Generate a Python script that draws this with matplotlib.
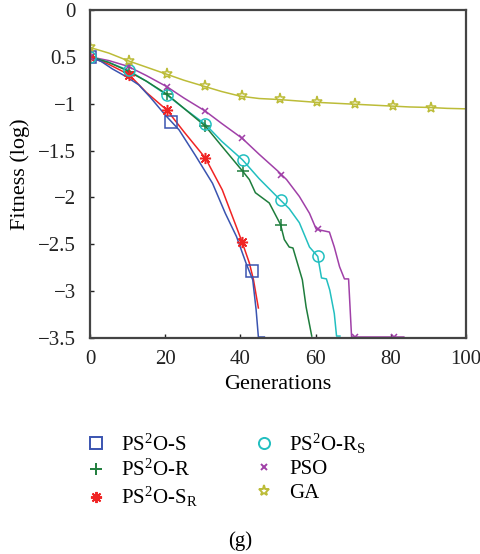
import matplotlib
matplotlib.use("Agg")
import matplotlib.pyplot as plt
from matplotlib.lines import Line2D

plt.rcParams['font.family'] = ['Liberation Serif', 'DejaVu Serif']
plt.rcParams['mathtext.fontset'] = 'custom'
plt.rcParams['mathtext.rm'] = 'Liberation Serif'
plt.rcParams['mathtext.it'] = 'Liberation Serif:italic'

# Data
s_x = [0, 3, 6, 10, 13, 16, 20, 23.7, 28, 32.6, 36, 39, 41.5, 43.3, 44.2, 44.8, 46.4]
s_y = [-0.5, -0.55, -0.63, -0.72, -0.8, -0.93, -1.12, -1.28, -1.55, -1.85, -2.17, -2.42, -2.7, -2.88, -3.2, -3.49, -3.49]
s_mx = [0, 21.5, 43]
s_my = [-0.5, -1.2, -2.79]

sr_x = [0, 5, 10.4, 15, 20.5, 25, 30.7, 35.2, 39, 40.5, 42.4, 43.5, 44.8]
sr_y = [-0.5, -0.58, -0.69, -0.88, -1.07, -1.3, -1.58, -1.92, -2.32, -2.48, -2.7, -2.88, -3.18]
sr_mx = [0, 10.4, 20.5, 30.7, 40.5]
sr_my = [-0.5, -0.69, -1.07, -1.58, -2.48]

r_x = [0, 5, 10, 15, 20.5, 25, 30.7, 35, 40.6, 42.4, 44, 47.7, 50.7, 51.7, 53, 54, 56.5, 57.5, 59]
r_y = [-0.5, -0.56, -0.65, -0.76, -0.9, -1.05, -1.24, -1.45, -1.72, -1.81, -1.95, -2.06, -2.29, -2.45, -2.53, -2.54, -2.88, -3.17, -3.48]
r_mx = [0, 10.4, 20.5, 30.7, 40.6, 50.7]
r_my = [-0.5, -0.66, -0.9, -1.24, -1.72, -2.29]

rs_x = [0, 5, 10, 15, 20.5, 25, 30.7, 35, 40.6, 45, 50.7, 53, 55.7, 58.4, 60.6, 61.6, 62.9, 63.8, 65, 65.6, 66.5]
rs_y = [-0.5, -0.56, -0.64, -0.76, -0.91, -1.05, -1.22, -1.4, -1.6, -1.8, -2.03, -2.12, -2.27, -2.53, -2.63, -2.86, -2.87, -2.99, -3.24, -3.48, -3.48]
rs_mx = [0, 10.4, 20.5, 30.7, 40.6, 50.7, 60.6]
rs_my = [-0.5, -0.64, -0.91, -1.22, -1.6, -2.03, -2.63]

pso_x = [0, 5, 10, 15, 20.5, 25, 30.7, 35, 40.5, 45, 50, 52.3, 55.7, 58.4, 60.2, 63.7, 65, 66.4, 67.7, 68.8, 69.6, 83.5]
pso_y = [-0.5, -0.54, -0.6, -0.7, -0.82, -0.94, -1.08, -1.21, -1.37, -1.54, -1.72, -1.81, -1.99, -2.17, -2.34, -2.37, -2.53, -2.74, -2.87, -2.87, -3.49, -3.49]
pso_mx = [0, 10.4, 20.5, 30.7, 40.5, 50.7, 60.6, 70.5, 80.8]
pso_my = [-0.5, -0.6, -0.82, -1.08, -1.37, -1.76, -2.34, -3.49, -3.49]

ga_x = [0, 5, 10, 15, 20, 25, 30, 35, 40, 45, 50, 55, 60, 65, 70, 75, 80, 85, 90, 95, 100]
ga_y = [-0.4, -0.46, -0.54, -0.61, -0.68, -0.75, -0.81, -0.87, -0.92, -0.945, -0.955, -0.97, -0.985, -0.995,
        -1.005, -1.015, -1.025, -1.035, -1.04, -1.05, -1.055]
ga_mx = [0, 10.4, 20.5, 30.5, 40.5, 50.6, 60.5, 70.5, 80.5, 90.6]
ga_my = [-0.39, -0.54, -0.68, -0.81, -0.92, -0.955, -0.985, -1.005, -1.025, -1.045]

series = [
    (s_x, s_y, s_mx, s_my, '#3a54b0', 's', r'PS$^2$O-S'),
    (r_x, r_y, r_mx, r_my, '#1e7d3c', '+', r'PS$^2$O-R'),
    (sr_x, sr_y, sr_mx, sr_my, '#f02424', (8, 2, 0), r'PS$^2$O-S$_\mathrm{R}$'),
    (rs_x, rs_y, rs_mx, rs_my, '#22bfc0', 'o', r'PS$^2$O-R$_\mathrm{S}$'),
    (pso_x, pso_y, pso_mx, pso_my, '#a040a8', 'x', 'PSO'),
    (ga_x, ga_y, ga_mx, ga_my, '#bcbc38', '*', 'GA'),
]

fig = plt.figure(figsize=(4.8, 5.54), dpi=100)
ax = fig.add_axes([0.1875, 0.39, 0.783, 0.592])

handles = []
# draw GA first so others overlay it
for x, y, mx, my, c, m, lab in series[::-1]:
    ax.plot(x, y, color=c, lw=1.1)
for x, y, mx, my, c, m, lab in series:
    size = 5 if m == 'x' else 8
    ax.plot(mx, my, linestyle='none', marker=m, markersize=size, markerfacecolor='none',
            markeredgecolor=c, markeredgewidth=1.1)
    handles.append(Line2D([], [], linestyle='none', marker=m, markersize=size,
                          markerfacecolor='none', markeredgecolor=c, markeredgewidth=1.4, label=lab))

ax.set_xlim(0, 100)
ax.set_ylim(-3.5, 0)
ax.set_xticks([0, 20, 40, 60, 80, 100])
ax.set_yticks([0, -0.5, -1, -1.5, -2, -2.5, -3, -3.5])
ax.set_yticklabels(['0', '0.5', '\u22121', '\u22121.5', '\u22122', '\u22122.5', '\u22123', '\u22123.5'])
ax.tick_params(direction='in', length=3, width=1, labelsize=15, colors='#222222')
ax.tick_params(axis='y', pad=10)
ax.tick_params(axis='x', pad=9)
for sp in ax.spines.values():
    sp.set_linewidth(1.6)
    sp.set_color('#444444')
ax.set_xlabel('Generations', fontsize=16, labelpad=4)
ax.set_ylabel('Fitness (log)', fontsize=16, labelpad=6)

fig.legend(handles=handles, loc='upper left', bbox_to_anchor=(0.135, 0.255), ncol=2,
           frameon=False, fontsize=15, handletextpad=0.6, columnspacing=2.6,
           labelspacing=0.2, handlelength=1.2)

fig.text(0.5, 0.015, '(g)', ha='center', fontsize=15)

plt.savefig('out.png', dpi=100)
